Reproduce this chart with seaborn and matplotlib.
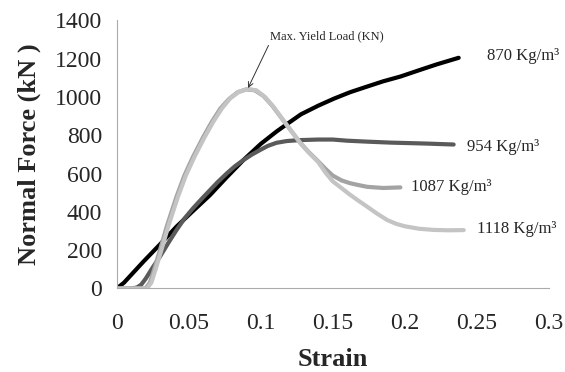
import matplotlib
matplotlib.use("Agg")
import matplotlib.pyplot as plt
import seaborn as sns
import pandas as pd

# data (strain vs normal force in kN)
x_870 = [0, 0.005, 0.0185, 0.03, 0.0415, 0.053, 0.0648, 0.076, 0.088, 0.1, 0.111, 0.12, 0.128,
         0.14, 0.151, 0.162, 0.174, 0.185, 0.197, 0.21, 0.222, 0.2375]
y_870 = [0, 30, 140, 230, 323, 405, 488, 578, 671, 755, 820, 868, 910,
         955, 992, 1025, 1055, 1082, 1107, 1140, 1170, 1205]

x_954 = [0, 0.01, 0.014, 0.017, 0.02, 0.025, 0.03, 0.036, 0.0415, 0.047, 0.053, 0.059, 0.0648,
         0.07, 0.0764, 0.082, 0.088, 0.094, 0.0995, 0.105, 0.111, 0.118, 0.127, 0.14, 0.15,
         0.16, 0.174, 0.19, 0.2, 0.215, 0.234]
y_954 = [0, 0, 5, 20, 50, 110, 166, 240, 305, 365, 419, 468, 514,
         555, 601, 638, 671, 700, 723, 745, 761, 770, 775, 778, 778,
         772, 767, 762, 760, 757, 752]

x_1087 = [0, 0.02, 0.023, 0.026, 0.03, 0.035, 0.0415, 0.047, 0.053, 0.06, 0.066, 0.072, 0.078,
          0.084, 0.09, 0.096, 0.102, 0.108, 0.114, 0.12, 0.127, 0.133, 0.139, 0.145, 0.15,
          0.156, 0.162, 0.168, 0.174, 0.185, 0.197]
y_1087 = [0, 0, 30, 100, 200, 330, 479, 590, 688, 790, 870, 940, 990,
          1025, 1040, 1035, 1005, 955, 895, 835, 765, 715, 671, 625, 590,
          565, 550, 540, 531, 525, 528]

x_1118 = [0, 0.021, 0.024, 0.027, 0.031, 0.036, 0.0425, 0.048, 0.054, 0.061, 0.067, 0.073, 0.079,
          0.085, 0.091, 0.097, 0.103, 0.109, 0.115, 0.121, 0.128, 0.134, 0.14, 0.145, 0.15,
          0.156, 0.162, 0.168, 0.174, 0.181, 0.188, 0.194, 0.2, 0.21, 0.22, 0.23, 0.241]
y_1118 = [0, 0, 30, 100, 200, 330, 479, 590, 688, 790, 870, 940, 995,
          1028, 1042, 1035, 1000, 948, 885, 825, 755, 705, 660, 605, 560,
          525, 490, 458, 427, 390, 357, 338, 325, 312, 306, 304, 305]

series_names = ["870", "954", "1087", "1118"]
series_colors = ["#000000", "#5a5a5a", "#a3a3a3", "#c4c4c4"]

# long table for seaborn
df = pd.concat([
    pd.DataFrame({"strain": x_870, "force": y_870, "density": "870"}),
    pd.DataFrame({"strain": x_954, "force": y_954, "density": "954"}),
    pd.DataFrame({"strain": x_1087, "force": y_1087, "density": "1087"}),
    pd.DataFrame({"strain": x_1118, "force": y_1118, "density": "1118"}),
])

sns.set_style("white")
plt.rcParams["font.family"] = ["Liberation Serif", "DejaVu Serif"]

fig = plt.figure(figsize=(5.65, 3.72), dpi=100)
ax = fig.add_axes([0.2066, 0.2245, 0.7645, 0.7205])

sns.lineplot(data=df, x="strain", y="force", hue="density", hue_order=series_names,
             palette=dict(zip(series_names, series_colors)), sort=False, estimator=None,
             linewidth=3.0, legend=False, ax=ax)

ax.set_xlim(0, 0.3)
ax.set_ylim(0, 1400)
ax.set_xticks([0, 0.05, 0.1, 0.15, 0.2, 0.25, 0.3])
ax.set_xticklabels(["0", "0.05", "0.1", "0.15", "0.2", "0.25", "0.3"])
ax.set_yticks(range(0, 1401, 200))
ax.tick_params(axis="both", direction="out", length=4.5, width=0.8, color="#999999",
               labelsize=17, pad=6)
ax.tick_params(axis="x", pad=13)
for side in ["top", "right"]:
    ax.spines[side].set_visible(False)
for side in ["left", "bottom"]:
    ax.spines[side].set_color("#aaaaaa")
    ax.spines[side].set_linewidth(0.8)

ax.set_xlabel("Strain", fontsize=19, fontweight="bold", labelpad=10)
ax.set_ylabel("Normal Force (kN )", fontsize=19, fontweight="bold", labelpad=10)

# curve labels
ax.text(0.257, 1215, "870 Kg/m³", fontsize=12, va="center")
ax.text(0.243, 740, "954 Kg/m³", fontsize=12, va="center")
ax.text(0.2045, 530, "1087 Kg/m³", fontsize=12, va="center")
ax.text(0.25, 311, "1118 Kg/m³", fontsize=12, va="center")

ax.annotate("Max. Yield Load (KN)", xy=(0.0912, 1047), xytext=(0.1065, 1318),
            fontsize=9, va="center", ha="left",
            arrowprops=dict(arrowstyle="->", color="#333333", lw=0.7,
                            shrinkA=0, shrinkB=0, relpos=(0.0, 0.0)))

fig.savefig("out.png", dpi=100)
